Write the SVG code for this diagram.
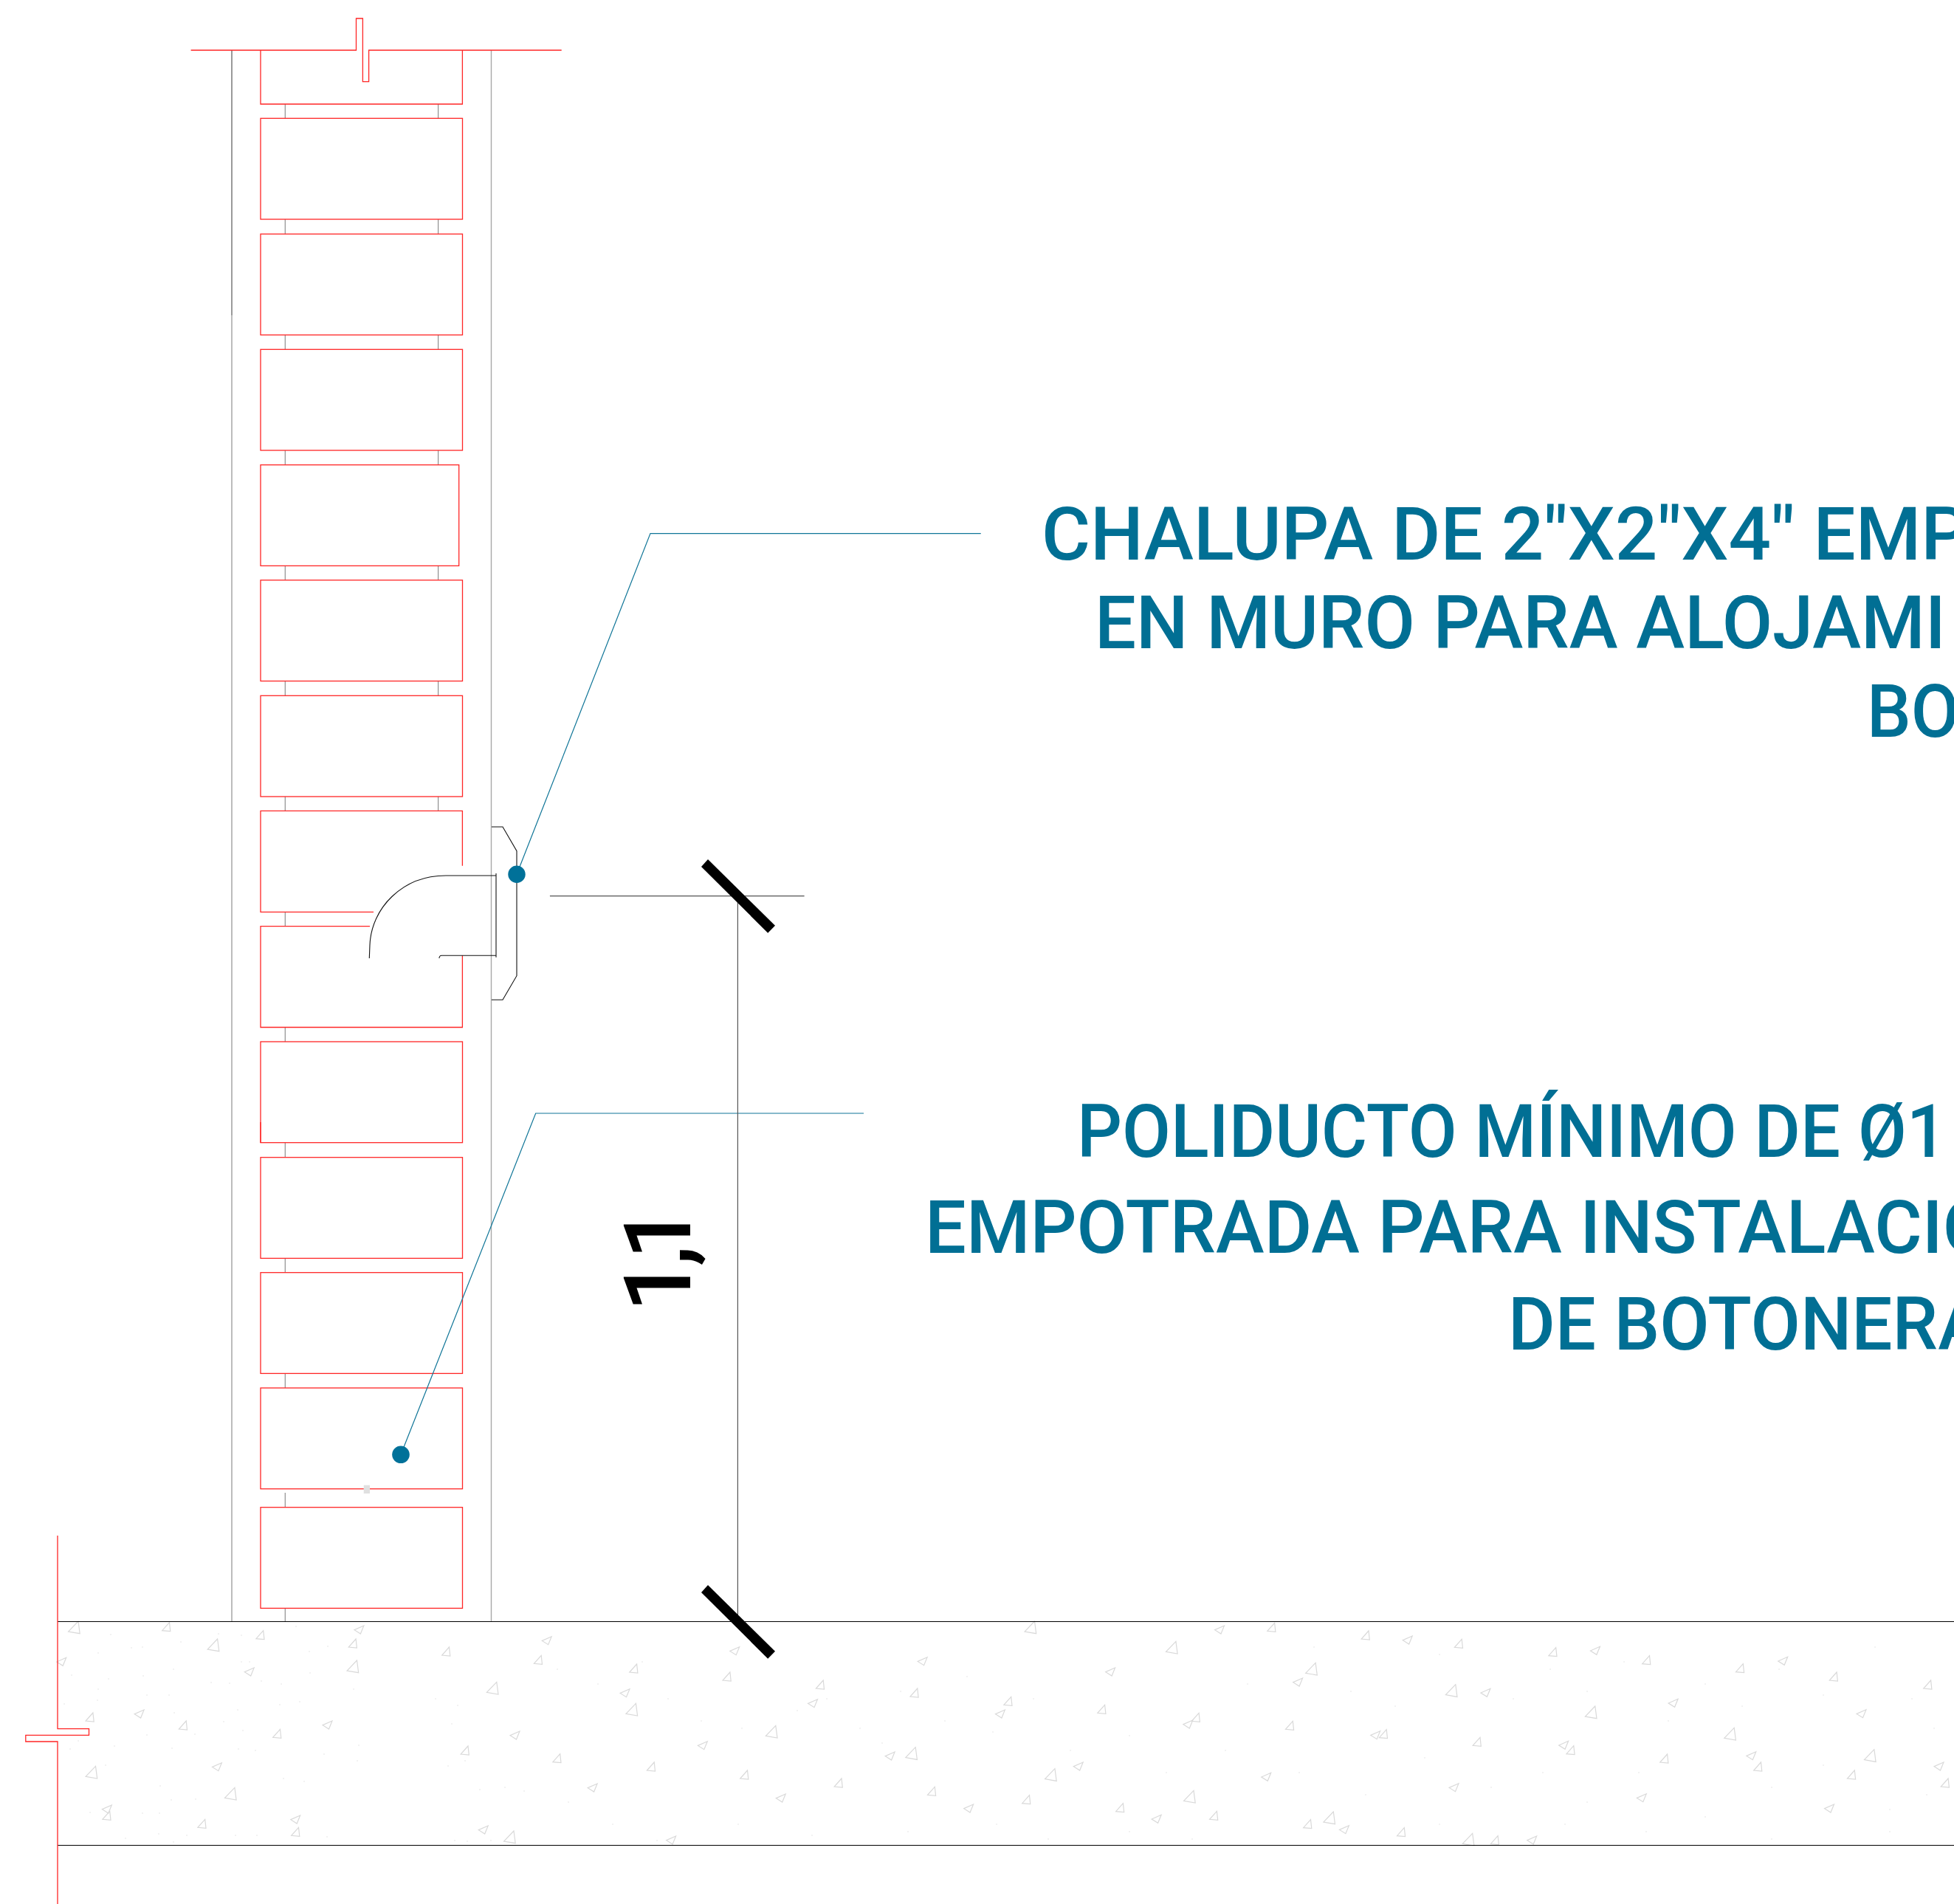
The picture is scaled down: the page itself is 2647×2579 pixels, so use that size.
<svg xmlns="http://www.w3.org/2000/svg" xmlns:xlink="http://www.w3.org/1999/xlink" width="2647" height="2579" viewBox="0 0 2647 2579">
<style>
.red{fill:none;stroke:#ff2626;stroke-width:1.3}
.gap{fill:none;stroke:#8f8f8f;stroke-width:1.2}
.tri{fill:none;stroke:#d9d9d9;stroke-width:1.2}
.spk{fill:none;stroke:#e6e6e6;stroke-width:1}
.lead{fill:none;stroke:#0f7597;stroke-width:1.2}
.ink{fill:none;stroke:#111111;stroke-width:1.1}
.dim{fill:none;stroke:#555555;stroke-width:1.2}
.floor{fill:none;stroke:#000000;stroke-width:1.2}
.dot{fill:#007199}
.note{font-family:Roboto,"Liberation Sans",sans-serif;font-size:101px;font-weight:500;fill:#016f94}
</style>
<defs>
<path id="a" d="M0 0L-13.4 14L2.2 16.7Z"/>
<path id="b" d="M0 0L-9.8 11L1.3 12Z"/>
<path id="c" d="M0 0L-12.9 5.7L-4.5 11Z"/>
<rect id="brick" width="273.5" height="136.7"/>
</defs>
<rect width="2647" height="2579" fill="#ffffff"/>
<g id="concrete">
<g class="tri">
<use href="#a" x="106" y="2196"/><use href="#a" x="294.6" y="2220"/><use href="#a" x="483.5" y="2249"/><use href="#a" x="672.8" y="2278.3"/><use href="#a" x="129.5" y="2392.3"/><use href="#a" x="317.9" y="2421.3"/><use href="#a" x="696" y="2480"/>
<use href="#a" x="1401.5" y="2196"/><use href="#a" x="1592.9" y="2223.3"/><use href="#a" x="861.4" y="2307.3"/><use href="#a" x="1050.8" y="2337.3"/><use href="#a" x="1240.2" y="2366.7"/><use href="#a" x="1429" y="2395.7"/><use href="#a" x="1617" y="2425.3"/>
<use href="#a" x="1782.1" y="2252.3"/><use href="#a" x="1971.8" y="2281.7"/><use href="#a" x="2160.8" y="2311"/><use href="#a" x="2349.2" y="2340.3"/><use href="#a" x="2538.9" y="2369.7"/><use href="#a" x="1806.3" y="2454"/><use href="#a" x="1994.7" y="2483.3"/>
<use href="#b" x="356.7" y="2208.7"/><use href="#b" x="482.1" y="2220"/><use href="#b" x="608.5" y="2231"/><use href="#b" x="229.5" y="2197.7"/><use href="#b" x="125.9" y="2320"/><use href="#b" x="252.2" y="2331"/><use href="#b" x="379.5" y="2342.3"/><use href="#b" x="634" y="2365"/><use href="#b" x="148.7" y="2453.3"/><use href="#b" x="277.7" y="2464.3"/><use href="#b" x="404.5" y="2475.3"/>
<use href="#b" x="862.6" y="2254"/><use href="#b" x="733.2" y="2242.3"/><use href="#b" x="988.9" y="2265"/><use href="#b" x="1115.2" y="2276"/><use href="#b" x="1242.8" y="2287"/><use href="#b" x="1369.7" y="2298.3"/><use href="#b" x="1496.6" y="2309.3"/><use href="#b" x="1624.1" y="2320.3"/><use href="#b" x="758.7" y="2375.7"/><use href="#b" x="886.2" y="2387"/><use href="#b" x="1012.5" y="2398"/><use href="#b" x="1140" y="2409"/><use href="#b" x="1266.3" y="2420.3"/><use href="#b" x="1394.5" y="2431.7"/><use href="#b" x="1521.4" y="2442.7"/><use href="#b" x="1648.4" y="2453.3"/>
<use href="#b" x="1726.6" y="2198.3"/><use href="#b" x="1854" y="2209"/><use href="#b" x="1980.2" y="2220.3"/><use href="#b" x="2107.7" y="2231.7"/><use href="#b" x="2234.5" y="2242.7"/><use href="#b" x="2361.3" y="2253.7"/><use href="#b" x="2488.1" y="2265"/><use href="#b" x="2615.6" y="2276"/><use href="#b" x="1751.3" y="2331.3"/><use href="#b" x="1878.2" y="2342.7"/><use href="#b" x="2005" y="2353.3"/><use href="#b" x="2131.8" y="2364.7"/><use href="#b" x="2258.6" y="2376"/><use href="#b" x="2385.5" y="2387"/><use href="#b" x="2512.3" y="2398"/><use href="#b" x="2639.1" y="2409"/><use href="#b" x="1775.5" y="2464.7"/><use href="#b" x="1902.3" y="2475.7"/><use href="#b" x="2029.1" y="2486.7"/>
<use href="#c" x="344.2" y="2259"/><use href="#c" x="492.9" y="2202"/><use href="#c" x="89.7" y="2245.3"/><use href="#c" x="195.1" y="2316"/><use href="#c" x="450" y="2331"/><use href="#c" x="300.4" y="2387.7"/><use href="#c" x="151.3" y="2445"/><use href="#c" x="406.7" y="2459"/><use href="#c" x="661.2" y="2473"/><use href="#c" x="704" y="2345"/>
<use href="#c" x="747.2" y="2216.7"/><use href="#c" x="1001.7" y="2230.7"/><use href="#c" x="1256.1" y="2244.7"/><use href="#c" x="1510.6" y="2259"/><use href="#c" x="1658.5" y="2202"/><use href="#c" x="853" y="2287.7"/><use href="#c" x="1107.5" y="2301.7"/><use href="#c" x="1361.4" y="2316"/><use href="#c" x="1615.8" y="2330"/><use href="#c" x="958.3" y="2358.7"/><use href="#c" x="1212.1" y="2373"/><use href="#c" x="1467.2" y="2387"/><use href="#c" x="809.1" y="2416"/><use href="#c" x="1064.2" y="2430"/><use href="#c" x="1318.6" y="2444"/><use href="#c" x="1573.1" y="2458.3"/><use href="#c" x="915.6" y="2487"/>
<use href="#c" x="1913.2" y="2216"/><use href="#c" x="1764.6" y="2273"/><use href="#c" x="2018.9" y="2287.3"/><use href="#c" x="2167.4" y="2230.3"/><use href="#c" x="2273.1" y="2301.3"/><use href="#c" x="2421.7" y="2244.3"/><use href="#c" x="2528" y="2315.7"/><use href="#c" x="2124.6" y="2358.3"/><use href="#c" x="2378.8" y="2372.7"/><use href="#c" x="2633" y="2387"/><use href="#c" x="1721.7" y="2401.3"/><use href="#c" x="1976" y="2415.7"/><use href="#c" x="2230.3" y="2429.7"/><use href="#c" x="2484.5" y="2444"/><use href="#c" x="1827.4" y="2472.7"/><use href="#c" x="2081.7" y="2487"/><use href="#c" x="1869.7" y="2344.7"/>
</g>
<path class="spk" d="M150 2213v2M178 2231v2M193 2230v2M133 2238v2M245 2223v2M296 2212v2M327 2214v2M401 2202v2M444 2229v2M419 2236v2M97 2268v2M147 2273v2M194 2269v2M235 2260v2M286 2278v2M311 2279v2M327 2250v2M338 2250v2M354 2276v2M381 2280v2M420 2265v2M479 2287v2M133 2287v2M199 2295v2M229 2295v2M132 2302v2M87 2307v2M322 2315v2M379 2308v2M406 2304v2M236 2319v2M303 2331v2M329 2343v2M264 2348v2M199 2349v2M155 2364v2M95 2368v2M233 2367v2M323 2368v2M346 2370v2M439 2375v2M484 2384v2M486 2363v2M106 2357v2M143 2390v2M217 2418v2M384 2408v2M412 2412v2M232 2437v2M265 2436v2M122 2454v2M193 2455v2M216 2455v2M215 2483v2M170 2489v2M235 2494v2M253 2485v2M319 2485v2M348 2485v2M443 2487v2M616 2492v2M633 2493v2M665 2492v2M590 2300v2M620 2309v2M612 2334v2M607 2391v2M630 2384v2M650 2423v2M684 2420v2M710 2425v2M755 2260v2M810 2280v2M870 2250v2M905 2300v2M950 2330v2M1005 2340v2M1080 2316v2M1120 2300v2M1165 2340v2M1195 2360v2M1220 2290v2M1280 2330v2M1310 2270v2M1345 2345v2M1400 2300v2M1450 2370v2M1530 2350v2M1580 2400v2M1660 2370v2M1690 2280v2M770 2440v2M830 2470v2M890 2492v2M1000 2470v2M1100 2485v2M1230 2480v2M1350 2470v2M1420 2490v2M1530 2480v2M1615 2490v2M1780 2230v2M1830 2290v2M1890 2310v2M1950 2240v2M2050 2300v2M2100 2260v2M2150 2290v2M2200 2250v2M2260 2330v2M2310 2280v2M2360 2310v2M2410 2260v2M2470 2295v2M2540 2230v2M2590 2300v2M2620 2340v2M1760 2400v2M1850 2430v2M1930 2380v2M2020 2420v2M2090 2400v2M2150 2440v2M2220 2400v2M2310 2460v2M2400 2420v2M2470 2390v2M2560 2450v2M2610 2430v2M1950 2470v2M2120 2470v2M2230 2480v2M2400 2490v2M2560 2480v2"/>
<path class="floor" d="M78 2196.5H2647M78 2499.5H2647"/>
</g>
<g id="wall">
<path d="M314 68V427" fill="none" stroke="#9a9a9a" stroke-width="2"/>
<path d="M314 427V2196" fill="none" stroke="#bcbcbc" stroke-width="2"/>
<path d="M665.5 68V2196" fill="none" stroke="#a8a8a8" stroke-width="1.4"/>
<path class="gap" d="M386.3 141V160M386.3 297V317M386.3 453.7V473M386.3 610V629.7M386.3 766.3V785.7M386.3 922.7V942.3M386.3 1079V1098.3M386.3 1235.3V1254.7M386.3 1391.3V1411M386.3 1548V1567.7M386.3 1704V1723.7M386.3 1860.3V1880M386.3 2022V2041.7M386.3 2178.3V2196M593.6 141V160M593.6 297V317M593.6 453.7V473M593.6 610V629.7M593.6 766.3V785.7M593.6 922.7V942.3M593.6 1079V1098.3"/>
<path class="red" d="M258.6 68H482.5V25H491.4V110.7H499.6V68H760.7M353 68V141H626.4V68"/>
<g class="red">
<use href="#brick" x="353" y="160.3"/><use href="#brick" x="353" y="317"/><use href="#brick" x="353" y="473.3"/>
<rect x="353" y="629.7" width="268.7" height="136.7"/>
<use href="#brick" x="353" y="785.8"/><use href="#brick" x="353" y="942.3"/>
<path d="M506 1235.3H353V1098.3H626.4V1172.7"/>
<path d="M501 1254.7H353V1391.5H626.4V1294"/>
<use href="#brick" x="353" y="1411"/><use href="#brick" x="353" y="1567.7"/><use href="#brick" x="353" y="1723.7"/><use href="#brick" x="353" y="1880"/><use href="#brick" x="353" y="2041.7"/>
<path d="M353 1520V1548"/>
<path d="M78 2080V2341.7H120.5V2350.3H34.8V2359H78V2579"/>
</g>
<rect x="492.7" y="2011.7" width="8.3" height="11.3" fill="#e0e0e0"/>
</g>
<g id="box">
<path class="ink" d="M666 1120H681L700 1152.7V1321.7L681 1354.3H666"/>
<path class="ink" d="M672 1183V1296.7M672 1186H604C545 1186 503 1230 501 1280L500.3 1298M672 1294.3H598.3Q595 1294.5 595 1298"/>
</g>
<g id="connectors">
<path class="lead" d="M1328.7 722.6H881L700 1184.3"/>
<path class="lead" d="M1170 1508H725.7L543 1970.3"/>
<path class="dim" d="M744.9 1213.7H1089.6M999.4 1213.7V2197"/>
</g>
<g id="terminals">
<circle class="dot" cx="700" cy="1184.3" r="11.7"/>
<circle class="dot" cx="543" cy="1970.3" r="11.8"/>
<path d="M959 1164L950 1174L1040.2 1263.7L1050 1253.7Z" fill="#000"/>
<path d="M959 2147L950 2157L1040.2 2246.7L1050 2236.7Z" fill="#000"/>
</g>
<g id="dim-label">
<text transform="translate(935 1777) rotate(-90)" x="0 62 71" y="0 0 0" font-family="Roboto,'Liberation Sans',sans-serif" font-size="126.6" font-weight="500" fill="#000">1,1</text>
</g>
<g id="note-chalupa">
<text class="note" x="1411" y="758.3" textLength="1256" lengthAdjust="spacingAndGlyphs">CHALUPA DE 2"X2"X4" EMP</text>
<text class="note" x="1483" y="878.3" textLength="1153" lengthAdjust="spacingAndGlyphs">EN MURO PARA ALOJAMI</text>
<text class="note" x="2529" y="998.3" textLength="125" lengthAdjust="spacingAndGlyphs">BO</text>
</g>
<g id="note-poliducto">
<text class="note" x="1459" y="1566.7" textLength="1178" lengthAdjust="spacingAndGlyphs">POLIDUCTO MÍNIMO DE Ø1</text>
<text class="note" x="1253" y="1697.3" textLength="1447" lengthAdjust="spacingAndGlyphs">EMPOTRADA PARA INSTALACIO</text>
<text class="note" x="2043" y="1828.3" textLength="647" lengthAdjust="spacingAndGlyphs">DE BOTONERA</text>
</g>
</svg>
